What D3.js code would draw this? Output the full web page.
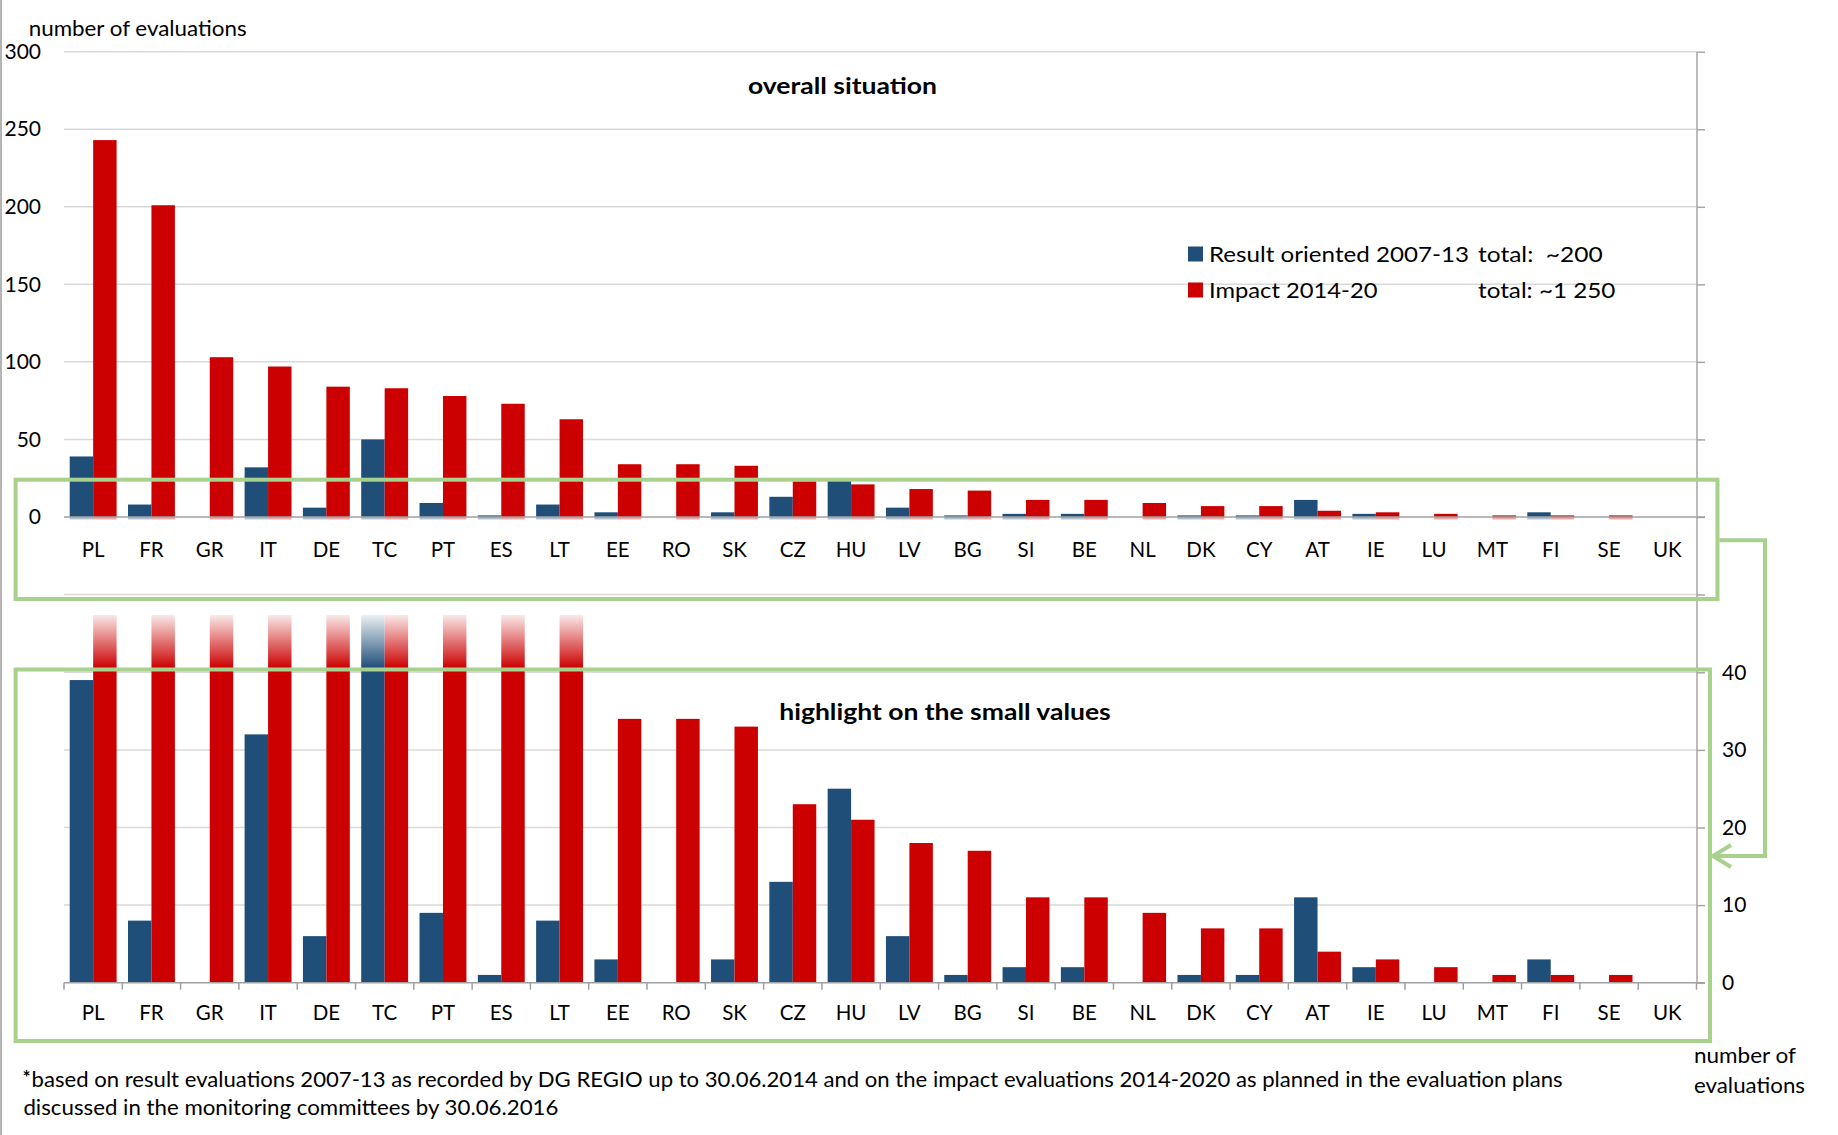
<!DOCTYPE html>
<html>
<head>
<meta charset="utf-8">
<script src="https://cdn.jsdelivr.net/npm/d3@7"></script>
<style>
  body { margin: 0; background: #fff; }
  svg text { font-family: Lato, "Open Sans", sans-serif; fill: #000; white-space: pre; }
</style>
</head>
<body>
<script>
// data
var categories = ["PL", "FR", "GR", "IT", "DE", "TC", "PT", "ES", "LT", "EE", "RO", "SK", "CZ", "HU",
                  "LV", "BG", "SI", "BE", "NL", "DK", "CY", "AT", "IE", "LU", "MT", "FI", "SE", "UK"];
var resultValues = [39, 8, 0, 32, 6, 50, 9, 1, 8, 3, 0, 3, 13, 25, 6, 1, 2, 2, 0, 1, 1, 11, 2, 0, 0, 3, 0, 0];
var impactValues = [243, 201, 103, 97, 84, 83, 78, 73, 63, 34, 34, 33, 23, 21, 18, 17, 11, 11, 9, 7, 7, 4, 3, 2, 1, 1, 1, 0];
var seriesNames = ["Result oriented 2007-13", "Impact 2014-20"];
var seriesTotals = ["total:  ~200", "total: ~1 250"];
var topTicks = [-50, 0, 50, 100, 150, 200, 250, 300];
var bottomTicks = [0, 10, 20, 30, 40];

var W = 1838, H = 1135;
var colors = ["#1f4e79", "#cc0000"];
var green = "#a9d18e", gridCol = "#d9d9d9", axisCol = "#a6a6a6";
var left = 64, right = 1697;

var svg = d3.select("body").append("svg").attr("width", W).attr("height", H);
svg.append("rect").attr("width", W).attr("height", H).attr("fill", "#fff");

// stretch a text to a measured width
function fit(sel, w) {
  sel.attr("textLength", w).attr("lengthAdjust", "spacingAndGlyphs");
  return sel;
}

var x = d3.scaleBand().domain(categories).range([left, 1696.5]);
var x1 = d3.scaleBand().domain([0, 1]).range([0, x.bandwidth()]).paddingOuter(0.243);

var yTop = d3.scaleLinear().domain([-50, 300]).range([594.5, 51.7]);
var yBot = d3.scaleLinear().domain([0, 40]).range([982.7, 672.3]);

var data = categories.map(function(c, i) {
  return { cat: c, values: [resultValues[i], impactValues[i]] };
});

// left border
svg.append("line").attr("x1", 1).attr("x2", 1).attr("y1", 0).attr("y2", H)
  .attr("stroke", "#b4b4b4").attr("stroke-width", 2);

// ---------- top chart ----------
var topChart = svg.append("g");

topChart.selectAll("line.grid").data(topTicks.filter(function(d) { return d !== 0; }))
  .enter().append("line").attr("class", "grid")
  .attr("x1", left).attr("x2", right)
  .attr("y1", function(d) { return yTop(d); }).attr("y2", function(d) { return yTop(d); })
  .attr("stroke", gridCol).attr("stroke-width", 1.5);

var gTopLabels = topChart.append("g").attr("transform", "translate(41,0)")
  .call(d3.axisLeft(yTop).tickValues(topTicks.filter(function(d) { return d >= 0; }))
    .tickSize(0).tickPadding(0));
gTopLabels.select(".domain").remove();
gTopLabels.selectAll("text").style("font-family", "Lato, sans-serif").style("font-size", "21px").attr("fill", "#000");

var gTopRight = topChart.append("g").attr("transform", "translate(" + right + ",0)")
  .call(d3.axisRight(yTop).tickValues(topTicks).tickSize(8).tickFormat(""));
gTopRight.select(".domain").remove();
gTopRight.selectAll("line").attr("stroke", axisCol).attr("stroke-width", 1.5);

var topGroups = topChart.selectAll("g.cat").data(data).enter().append("g").attr("class", "cat")
  .attr("transform", function(d) { return "translate(" + x(d.cat) + ",0)"; });
topGroups.selectAll("rect.bar").data(function(d) { return d.values; }).enter().append("rect")
  .attr("class", "bar")
  .attr("x", function(v, i) { return x1(i); })
  .attr("width", x1.bandwidth())
  .attr("y", function(v) { return yTop(v); })
  .attr("height", function(v) { return yTop(0) - yTop(v); })
  .attr("fill", function(v, i) { return colors[i]; });
topGroups.selectAll("rect.under").data(function(d) { return d.values; }).enter().append("rect")
  .attr("class", "under")
  .attr("x", function(v, i) { return x1(i); })
  .attr("width", x1.bandwidth())
  .attr("y", yTop(0)).attr("height", function(v) { return v > 0 ? 2.5 : 0; })
  .attr("fill", function(v, i) { return colors[i]; }).attr("opacity", 0.35);

topChart.append("line").attr("x1", left).attr("x2", right + 8)
  .attr("y1", yTop(0)).attr("y2", yTop(0)).attr("stroke", "#a0a0a0").attr("stroke-width", 1.5);

topChart.selectAll("text.cat").data(categories).enter().append("text").attr("class", "cat")
  .attr("x", function(c) { return x(c) + x.bandwidth() / 2; })
  .attr("y", 550).attr("dy", "0.35em").attr("text-anchor", "middle")
  .style("font-size", "20.5px").text(function(c) { return c; });

fit(topChart.append("text").attr("x", 842.5).attr("y", 86.7).attr("dy", "0.35em").attr("text-anchor", "middle")
  .style("font-size", "22px").style("font-weight", "bold").text("overall situation"), 189);

// legend
var legend = topChart.selectAll("g.legend").data(seriesNames).enter().append("g").attr("class", "legend")
  .attr("transform", function(d, i) { return "translate(1188," + (254 + i * 36) + ")"; });
legend.append("rect").attr("x", 0).attr("y", -7.5).attr("width", 15).attr("height", 15)
  .attr("fill", function(d, i) { return colors[i]; });
legend.append("text").attr("x", 21).attr("dy", "0.35em").style("font-size", "21.5px")
  .text(function(d) { return d; })
  .each(function(d, i) { fit(d3.select(this), [260, 168.5][i]); });
legend.append("text").attr("x", 290).attr("dy", "0.35em").style("font-size", "21.5px")
  .text(function(d, i) { return seriesTotals[i]; })
  .each(function(d, i) { fit(d3.select(this), [124.7, 137.4][i]); });

// ---------- bottom chart ----------
var botChart = svg.append("g");
var defs = svg.append("defs");
defs.append("clipPath").attr("id", "botClip").append("rect")
  .attr("x", 0).attr("y", 615).attr("width", W).attr("height", yBot(0) - 615);
var grad = defs.append("linearGradient").attr("id", "fade").attr("x1", 0).attr("x2", 0).attr("y1", 0).attr("y2", 1);
grad.append("stop").attr("offset", "0%").attr("stop-color", "#fff").attr("stop-opacity", 0.93);
grad.append("stop").attr("offset", "100%").attr("stop-color", "#fff").attr("stop-opacity", 0);

botChart.selectAll("line.grid").data(bottomTicks.filter(function(d) { return d > 0; }))
  .enter().append("line").attr("class", "grid")
  .attr("x1", left).attr("x2", right)
  .attr("y1", function(d) { return yBot(d); }).attr("y2", function(d) { return yBot(d); })
  .attr("stroke", gridCol).attr("stroke-width", 1.5);

var gBotRight = botChart.append("g").attr("transform", "translate(" + right + ",0)")
  .call(d3.axisRight(yBot).tickValues(bottomTicks).tickSize(8).tickPadding(17));
gBotRight.select(".domain").remove();
gBotRight.selectAll("line").attr("stroke", axisCol).attr("stroke-width", 1.5);
gBotRight.selectAll("text").style("font-family", "Lato, sans-serif").style("font-size", "21px").attr("fill", "#000");

var bars = botChart.append("g").attr("clip-path", "url(#botClip)");
var botGroups = bars.selectAll("g.cat").data(data).enter().append("g").attr("class", "cat")
  .attr("transform", function(d) { return "translate(" + x(d.cat) + ",0)"; });
botGroups.selectAll("rect").data(function(d) { return d.values; }).enter().append("rect")
  .attr("x", function(v, i) { return x1(i); })
  .attr("width", x1.bandwidth())
  .attr("y", function(v) { return yBot(v); })
  .attr("height", function(v) { return yBot(0) - yBot(v); })
  .attr("fill", function(v, i) { return colors[i]; });
botChart.append("rect").attr("x", left).attr("y", 614).attr("width", right - left).attr("height", 54)
  .attr("fill", "url(#fade)");

botChart.append("line").attr("x1", left).attr("x2", right + 8)
  .attr("y1", yBot(0)).attr("y2", yBot(0)).attr("stroke", "#a0a0a0").attr("stroke-width", 1.5);
botChart.selectAll("line.tick").data(categories.concat(["end"])).enter().append("line").attr("class", "tick")
  .attr("x1", function(c) { return c === "end" ? x.range()[1] : x(c); })
  .attr("x2", function(c) { return c === "end" ? x.range()[1] : x(c); })
  .attr("y1", yBot(0)).attr("y2", yBot(0) + 7)
  .attr("stroke", "#a0a0a0").attr("stroke-width", 1.5);

botChart.selectAll("text.cat").data(categories).enter().append("text").attr("class", "cat")
  .attr("x", function(c) { return x(c) + x.bandwidth() / 2; })
  .attr("y", 1013).attr("dy", "0.35em").attr("text-anchor", "middle")
  .style("font-size", "20.5px").text(function(c) { return c; });

fit(botChart.append("text").attr("x", 945).attr("y", 712.7).attr("dy", "0.35em").attr("text-anchor", "middle")
  .style("font-size", "22px").style("font-weight", "bold").text("highlight on the small values"), 331.5);

// right value axis line shared by both charts
svg.append("line").attr("x1", right).attr("x2", right).attr("y1", yTop(300)).attr("y2", yBot(0))
  .attr("stroke", axisCol).attr("stroke-width", 1.5);

// ---------- green frames and arrow ----------
var frames = svg.append("g").attr("fill", "none").attr("stroke", green).attr("stroke-width", 4);
frames.append("rect").attr("x", 15.6).attr("y", 479.7).attr("width", 1701.9).attr("height", 119.3);
frames.append("rect").attr("x", 15.6).attr("y", 669.5).attr("width", 1694.4).attr("height", 371.5);
frames.append("path").attr("d", "M1719.5,540.3H1765V856H1713");
frames.append("path").attr("d", "M1731,845L1713,856L1731,867");

// ---------- texts ----------
fit(svg.append("text").attr("x", 28.7).attr("y", 29).attr("dy", "0.35em").style("font-size", "21px")
  .text("number of evaluations"), 218);

fit(svg.append("text").attr("x", 1694).attr("y", 1056).attr("dy", "0.35em").style("font-size", "21px")
  .text("number of"), 102);
fit(svg.append("text").attr("x", 1694).attr("y", 1085.5).attr("dy", "0.35em").style("font-size", "21px")
  .text("evaluations"), 111);

svg.append("text").attr("x", 22.5).attr("y", 1084).style("font-size", "19px").style("font-weight", "bold").text("*");
fit(svg.append("text").attr("x", 31.6).attr("y", 1079.6).attr("dy", "0.35em").style("font-size", "20.5px")
  .text("based on result evaluations 2007-13 as recorded by DG REGIO up to 30.06.2014 and on the impact evaluations 2014-2020 as planned in the evaluation plans"), 1531);
fit(svg.append("text").attr("x", 23.4).attr("y", 1107.7).attr("dy", "0.35em").style("font-size", "20.5px")
  .text("discussed in the monitoring committees by 30.06.2016"), 535);
</script>
</body>
</html>
